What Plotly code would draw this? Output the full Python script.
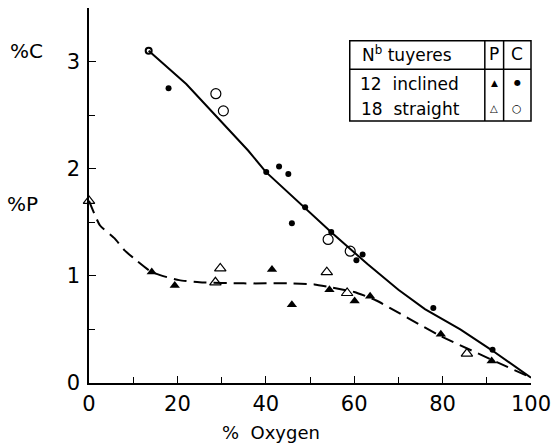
import plotly.graph_objects as go

# ---- data ----
# %P, 12 inclined tuyeres (filled triangles)
p_incl_x = [14.2, 19.4, 41.4, 45.9, 54.4, 60.1, 63.6, 79.6, 91.1]
p_incl_y = [1.035, 0.91, 1.06, 0.73, 0.87, 0.765, 0.81, 0.455, 0.205]
# %P, 18 straight tuyeres (open triangles)
p_str_x = [0, 28.6, 29.7, 53.8, 58.4, 85.5]
p_str_y = [1.70, 0.94, 1.07, 1.035, 0.84, 0.275]
# %C, 12 inclined tuyeres (filled circles)
c_incl_x = [18.0, 40.1, 43.0, 45.1, 48.9, 45.9, 54.8, 60.5, 61.9, 77.9, 91.3]
c_incl_y = [2.75, 1.97, 2.02, 1.95, 1.64, 1.49, 1.41, 1.145, 1.20, 0.70, 0.31]
# %C, first point (small ring)
c_first_x = [13.5]
c_first_y = [3.10]
# %C, 18 straight tuyeres (open circles)
c_str_x = [28.7, 30.4, 54.1, 59.1]
c_str_y = [2.70, 2.54, 1.34, 1.23]
# fitted curves (hand-drawn in original)
c_fit_x = [13.5, 22, 36, 40, 55, 63, 70, 76, 84, 91, 100]
c_fit_y = [3.10, 2.79, 2.17, 1.97, 1.40, 1.11, 0.87, 0.69, 0.50, 0.31, 0.05]
p_fit_x = [0, 2.5, 5.8, 8, 10.7, 14, 16.6, 20.4, 25, 35, 45, 51, 55, 60, 65, 79, 100]
p_fit_y = [1.70, 1.47, 1.35, 1.24, 1.145, 1.04, 1.0, 0.96, 0.94, 0.93, 0.93, 0.92, 0.89, 0.85, 0.77, 0.45, 0.05]

x_ticks = [0, 20, 40, 60, 80, 100]
y_ticks = [0, 1, 2, 3]

FONT = "DejaVu Sans"
INK = "black"

fig = go.Figure()
fig.add_trace(go.Scatter(x=c_fit_x, y=c_fit_y, mode="lines",
                         line=dict(color=INK, width=2), cliponaxis=False))
fig.add_trace(go.Scatter(x=p_fit_x, y=p_fit_y, mode="lines",
                         line=dict(color=INK, width=2, dash="13px,7px", shape="spline", smoothing=0.5),
                         cliponaxis=False))
fig.add_trace(go.Scatter(x=p_incl_x, y=p_incl_y, mode="markers", cliponaxis=False,
                         marker=dict(symbol="triangle-up", size=9, color=INK)))
fig.add_trace(go.Scatter(x=p_str_x, y=p_str_y, mode="markers", cliponaxis=False,
                         marker=dict(symbol="triangle-up-open", size=10, color=INK,
                                     line=dict(width=1.2))))
fig.add_trace(go.Scatter(x=c_incl_x, y=c_incl_y, mode="markers", cliponaxis=False,
                         marker=dict(symbol="circle", size=6, color=INK)))
fig.add_trace(go.Scatter(x=c_first_x, y=c_first_y, mode="markers", cliponaxis=False,
                         marker=dict(symbol="circle-open", size=6, color=INK,
                                     line=dict(width=2))))
fig.add_trace(go.Scatter(x=c_str_x, y=c_str_y, mode="markers", cliponaxis=False,
                         marker=dict(symbol="circle-open", size=10, color=INK,
                                     line=dict(width=1.2))))

L, R, T, B = 89, 536, 8, 383
def px(x):
    return (x - L) / (R - L)
def py(y):
    return (B - y) / (B - T)

shapes = []
# legend table box
bx0, bx1, by0, by1 = 352.7, 536, 40.7, 121
shapes.append(dict(type="rect", xref="paper", yref="paper", x0=px(bx0), x1=px(bx1),
                   y0=py(by1), y1=py(by0), line=dict(color=INK, width=1.5)))
shapes.append(dict(type="line", xref="paper", yref="paper", x0=px(bx0), x1=px(bx1),
                   y0=py(69.3), y1=py(69.3), line=dict(color=INK, width=1.5)))
for cx in (489.3, 508.3):
    shapes.append(dict(type="line", xref="paper", yref="paper", x0=px(cx), x1=px(cx),
                       y0=py(by1), y1=py(by0), line=dict(color=INK, width=1.5)))

ann = []
def txt(x, y, s, size, **kw):
    ann.append(dict(x=px(x), y=py(y), xref="paper", yref="paper", text=s, showarrow=False,
                    font=dict(family=FONT, size=size, color=INK), xanchor="center",
                    yanchor="middle", **kw))

txt(411, 54, "N<sup>b</sup> tuyeres", 17)
txt(413, 84, "12  inclined", 17)
txt(414, 109, "18  straight", 17)
txt(499, 54, "P", 17)
txt(522, 54, "C", 17)
txt(499, 83, "▲", 9)
txt(522, 83, "●", 8)
txt(499, 109, "△", 10)
txt(522, 109, "○", 11)
txt(26, 51, "%C", 20)
txt(22, 204, "%P", 20)
txt(273, 432, "%  Oxygen", 18)

fig.update_layout(
    width=559, height=446,
    margin=dict(l=L, r=559 - R, t=T, b=446 - B),
    paper_bgcolor="white", plot_bgcolor="white",
    showlegend=False,
    font=dict(family=FONT, color=INK),
    shapes=shapes, annotations=ann,
    xaxis=dict(range=[0, 100], tickvals=x_ticks, ticktext=[str(v) for v in x_ticks],
               ticks="inside", ticklen=7, tickwidth=1.2, tickcolor=INK,
               showline=True, linecolor=INK, linewidth=1.5, showgrid=False, zeroline=False,
               tickfont=dict(size=21, family=FONT), ticklabelstandoff=1,
               minor=dict(dtick=10, ticks="inside", ticklen=6, tickcolor=INK, tickwidth=1.2, showgrid=False)),
    yaxis=dict(range=[0, 3.5], tickvals=y_ticks, ticktext=[str(v) for v in y_ticks],
               ticks="inside", ticklen=7, tickwidth=1.2, tickcolor=INK,
               showline=True, linecolor=INK, linewidth=1.5, showgrid=False, zeroline=False,
               tickfont=dict(size=21, family=FONT), ticklabelstandoff=3,
               minor=dict(dtick=0.5, ticks="inside", ticklen=6, tickcolor=INK, tickwidth=1.2, showgrid=False)),
)

fig.write_html("out.html")
